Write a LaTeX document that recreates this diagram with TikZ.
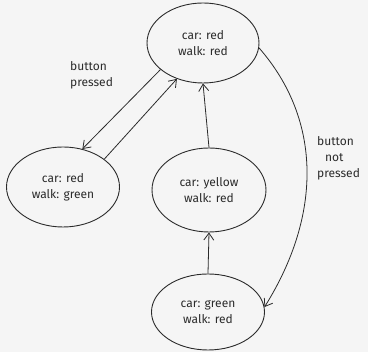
\documentclass[tikz,border=0pt]{standalone}
\usepackage{fontspec}
\setmainfont{Fira Sans}
\usetikzlibrary{arrows.meta,shapes.geometric}
\definecolor{paper}{HTML}{F5F5F5}
\definecolor{ink}{HTML}{2B2B2B}
\begin{document}
\begin{tikzpicture}[x=1pt,y=-1pt,
  state/.style={draw=ink,line width=0.9pt,ellipse,inner sep=0pt,
    font=\fontsize{12}{16}\selectfont,align=center,text=ink},
  edge/.style={draw=ink,line width=0.8pt,-{Straight Barb[length=7pt,width=10pt]}},
  lbl/.style={font=\fontsize{12}{16}\selectfont,align=left,text=ink,anchor=north west,inner sep=0pt}]
  \fill[paper] (0,0) rectangle (368,352);
  \useasboundingbox (0,0) rectangle (368,352);

  % states of the crossing
  \node[state,minimum width=112pt,minimum height=80pt] (rr) at (203,43) {car: red\\walk: red};
  \node[state,minimum width=113pt,minimum height=80pt] (rg) at (63,187) {car: red\\walk: green};
  \node[state,minimum width=114pt,minimum height=84pt] (yr) at (209,190) {car: yellow\\walk: red};
  \node[state,minimum width=113pt,minimum height=76pt] (gr) at (208,312) {car: green\\walk: red};

  % transitions
  \draw[edge] (rr.-148) -- (rg.63);
  \draw[edge] (rg.34) -- (rr.-126);
  \draw[edge] (yr.north) -- (rr.south);
  \draw[edge] (gr.north) -- (yr.south);
  \draw[edge] (rr.-5) .. controls (322,120) and (322,215) .. (gr.5);

  % transition labels
  \node[lbl] (bp) at (70,61) {button\\pressed};
  \node[lbl] (bnp) at (317,136) {button\\\hspace*{8pt}not\\pressed};
\end{tikzpicture}
\end{document}
